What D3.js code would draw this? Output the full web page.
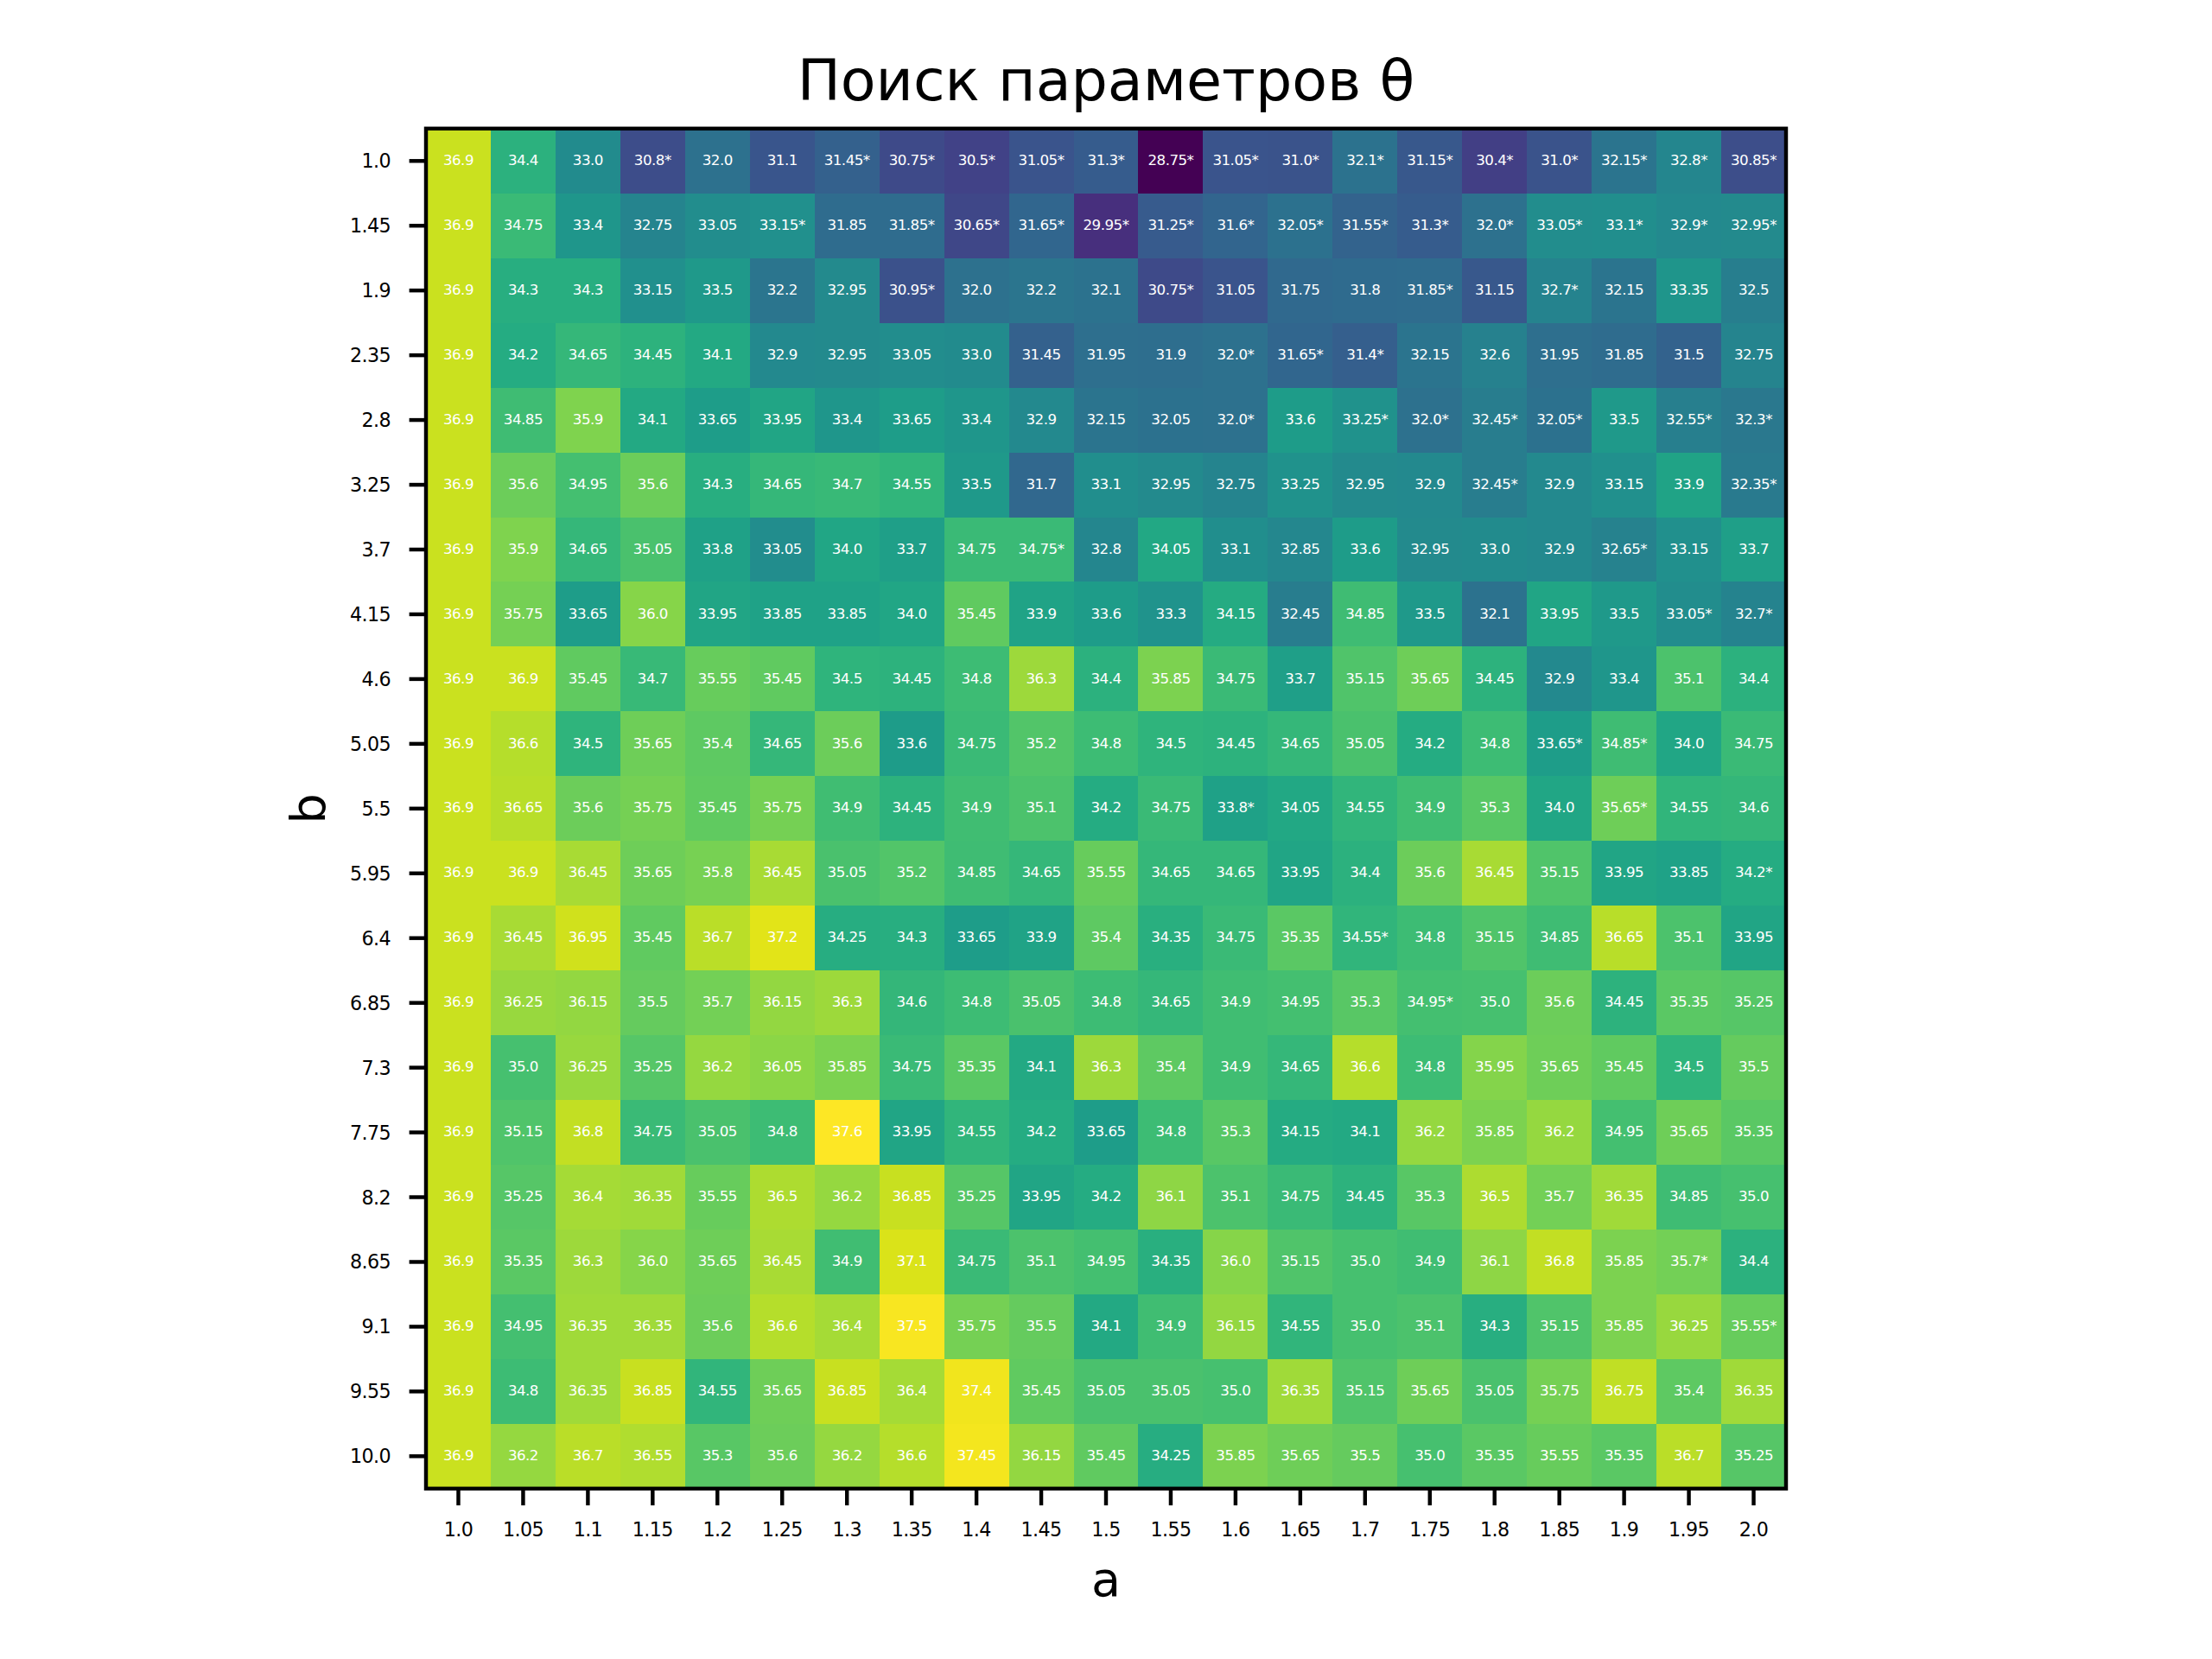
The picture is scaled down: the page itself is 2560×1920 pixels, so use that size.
<!DOCTYPE html>
<html>
<head>
<meta charset="utf-8">
<script src="https://cdn.jsdelivr.net/npm/d3@7"></script>
<style>
  body { margin: 0; background: #fff; }
  text { font-family: "DejaVu Sans", sans-serif; }
</style>
</head>
<body>
<div id="chart"></div>
<script>
var aLabels = ["1.0","1.05","1.1","1.15","1.2","1.25","1.3","1.35","1.4","1.45","1.5","1.55","1.6","1.65","1.7","1.75","1.8","1.85","1.9","1.95","2.0"];
var bLabels = ["1.0","1.45","1.9","2.35","2.8","3.25","3.7","4.15","4.6","5.05","5.5","5.95","6.4","6.85","7.3","7.75","8.2","8.65","9.1","9.55","10.0"];

var scores = [
  [36.9,34.4,33.0,30.8,32.0,31.1,31.45,30.75,30.5,31.05,31.3,28.75,31.05,31.0,32.1,31.15,30.4,31.0,32.15,32.8,30.85],
  [36.9,34.75,33.4,32.75,33.05,33.15,31.85,31.85,30.65,31.65,29.95,31.25,31.6,32.05,31.55,31.3,32.0,33.05,33.1,32.9,32.95],
  [36.9,34.3,34.3,33.15,33.5,32.2,32.95,30.95,32.0,32.2,32.1,30.75,31.05,31.75,31.8,31.85,31.15,32.7,32.15,33.35,32.5],
  [36.9,34.2,34.65,34.45,34.1,32.9,32.95,33.05,33.0,31.45,31.95,31.9,32.0,31.65,31.4,32.15,32.6,31.95,31.85,31.5,32.75],
  [36.9,34.85,35.9,34.1,33.65,33.95,33.4,33.65,33.4,32.9,32.15,32.05,32.0,33.6,33.25,32.0,32.45,32.05,33.5,32.55,32.3],
  [36.9,35.6,34.95,35.6,34.3,34.65,34.7,34.55,33.5,31.7,33.1,32.95,32.75,33.25,32.95,32.9,32.45,32.9,33.15,33.9,32.35],
  [36.9,35.9,34.65,35.05,33.8,33.05,34.0,33.7,34.75,34.75,32.8,34.05,33.1,32.85,33.6,32.95,33.0,32.9,32.65,33.15,33.7],
  [36.9,35.75,33.65,36.0,33.95,33.85,33.85,34.0,35.45,33.9,33.6,33.3,34.15,32.45,34.85,33.5,32.1,33.95,33.5,33.05,32.7],
  [36.9,36.9,35.45,34.7,35.55,35.45,34.5,34.45,34.8,36.3,34.4,35.85,34.75,33.7,35.15,35.65,34.45,32.9,33.4,35.1,34.4],
  [36.9,36.6,34.5,35.65,35.4,34.65,35.6,33.6,34.75,35.2,34.8,34.5,34.45,34.65,35.05,34.2,34.8,33.65,34.85,34.0,34.75],
  [36.9,36.65,35.6,35.75,35.45,35.75,34.9,34.45,34.9,35.1,34.2,34.75,33.8,34.05,34.55,34.9,35.3,34.0,35.65,34.55,34.6],
  [36.9,36.9,36.45,35.65,35.8,36.45,35.05,35.2,34.85,34.65,35.55,34.65,34.65,33.95,34.4,35.6,36.45,35.15,33.95,33.85,34.2],
  [36.9,36.45,36.95,35.45,36.7,37.2,34.25,34.3,33.65,33.9,35.4,34.35,34.75,35.35,34.55,34.8,35.15,34.85,36.65,35.1,33.95],
  [36.9,36.25,36.15,35.5,35.7,36.15,36.3,34.6,34.8,35.05,34.8,34.65,34.9,34.95,35.3,34.95,35.0,35.6,34.45,35.35,35.25],
  [36.9,35.0,36.25,35.25,36.2,36.05,35.85,34.75,35.35,34.1,36.3,35.4,34.9,34.65,36.6,34.8,35.95,35.65,35.45,34.5,35.5],
  [36.9,35.15,36.8,34.75,35.05,34.8,37.6,33.95,34.55,34.2,33.65,34.8,35.3,34.15,34.1,36.2,35.85,36.2,34.95,35.65,35.35],
  [36.9,35.25,36.4,36.35,35.55,36.5,36.2,36.85,35.25,33.95,34.2,36.1,35.1,34.75,34.45,35.3,36.5,35.7,36.35,34.85,35.0],
  [36.9,35.35,36.3,36.0,35.65,36.45,34.9,37.1,34.75,35.1,34.95,34.35,36.0,35.15,35.0,34.9,36.1,36.8,35.85,35.7,34.4],
  [36.9,34.95,36.35,36.35,35.6,36.6,36.4,37.5,35.75,35.5,34.1,34.9,36.15,34.55,35.0,35.1,34.3,35.15,35.85,36.25,35.55],
  [36.9,34.8,36.35,36.85,34.55,35.65,36.85,36.4,37.4,35.45,35.05,35.05,35.0,36.35,35.15,35.65,35.05,35.75,36.75,35.4,36.35],
  [36.9,36.2,36.7,36.55,35.3,35.6,36.2,36.6,37.45,36.15,35.45,34.25,35.85,35.65,35.5,35.0,35.35,35.55,35.35,36.7,35.25]
];

// columns that carry an asterisk, one list per row of scores
var starred = [
  [3,6,7,8,9,10,11,12,13,14,15,16,17,18,19,20],
  [5,7,8,9,10,11,12,13,14,15,16,17,18,19,20],
  [7,11,15,17],
  [12,13,14],
  [12,14,15,16,17,19,20],
  [16,20],
  [9,18],
  [19,20],
  [],
  [17,18],
  [12,18],
  [20],
  [14],
  [15],
  [],
  [],
  [],
  [19],
  [20],
  [],
  []
];

var width = 2560, height = 1920;
var left = 493, top_ = 148.8, size = 1574;

var svg = d3.select("#chart").append("svg")
  .attr("width", width)
  .attr("height", height)
  .style("display", "block");

var x = d3.scaleBand().domain(aLabels).range([left, left + size]);
var y = d3.scaleBand().domain(bLabels).range([top_, top_ + size]);

var allValues = scores.reduce(function (acc, row) { return acc.concat(row); }, []);
var color = d3.scaleSequential(d3.interpolateViridis).domain(d3.extent(allValues));

//flat list of cells
var cells = [];
scores.forEach(function (row, r) {
  row.forEach(function (v, c) {
    cells.push({ a: aLabels[c], b: bLabels[r], value: v, star: starred[r].indexOf(c) >= 0 });
  });
});

var cellLabel = function (d) {
  var s = String(d.value);
  if (s.indexOf(".") < 0) s += ".0";
  return d.star ? s + "*" : s;
};

svg.append("g").selectAll("rect")
  .data(cells)
  .enter()
  .append("rect")
  .attr("x", function (d) { return x(d.a); })
  .attr("y", function (d) { return y(d.b); })
  .attr("width", x.bandwidth() + 0.5)
  .attr("height", y.bandwidth() + 0.5)
  .attr("fill", function (d) { return color(d.value); })
  .attr("shape-rendering", "crispEdges");

svg.append("g").selectAll("text")
  .data(cells)
  .enter()
  .append("text")
  .attr("x", function (d) { return x(d.a) + x.bandwidth() / 2; })
  .attr("y", function (d) { return y(d.b) + y.bandwidth() / 2; })
  .attr("dy", "0.28em")
  .attr("text-anchor", "middle")
  .attr("font-size", 16.67)
  .attr("letter-spacing", "-0.5px")
  .attr("fill", "#fff")
  .text(cellLabel);

//Axes
var xAxis = d3.axisBottom(x).tickSize(19.4).tickPadding(20).offset(0);
var yAxis = d3.axisLeft(y).tickSize(19.4).tickPadding(21.6).offset(0);

var gx = svg.append("g").attr("transform", "translate(0," + (top_ + size) + ")").call(xAxis);
var gy = svg.append("g").attr("transform", "translate(" + left + ",0)").call(yAxis);

[gx, gy].forEach(function (g) {
  g.select(".domain").remove();
  g.selectAll("line").attr("stroke", "#000").attr("stroke-width", 4.44);
  g.selectAll("text")
    .attr("font-size", 22.2)
    .attr("font-family", "DejaVu Sans")
    .attr("letter-spacing", "-0.6px")
    .attr("fill", "#000");
});
gy.selectAll("text").attr("dy", "0.36em");

//frame
svg.append("rect")
  .attr("x", left)
  .attr("y", top_)
  .attr("width", size)
  .attr("height", size)
  .attr("fill", "none")
  .attr("stroke", "#000")
  .attr("stroke-width", 4.44);

svg.append("text")
  .attr("x", left + size / 2)
  .attr("y", 116)
  .attr("text-anchor", "middle")
  .attr("font-size", 66.7)
  .text("Поиск параметров θ");

svg.append("text")
  .attr("x", left + size / 2)
  .attr("y", 1847)
  .attr("text-anchor", "middle")
  .attr("font-size", 55.6)
  .text("a");

svg.append("text")
  .attr("transform", "translate(375.7," + (top_ + size / 2) + ") rotate(-90)")
  .attr("text-anchor", "middle")
  .attr("font-size", 55.6)
  .text("b");
</script>
</body>
</html>
